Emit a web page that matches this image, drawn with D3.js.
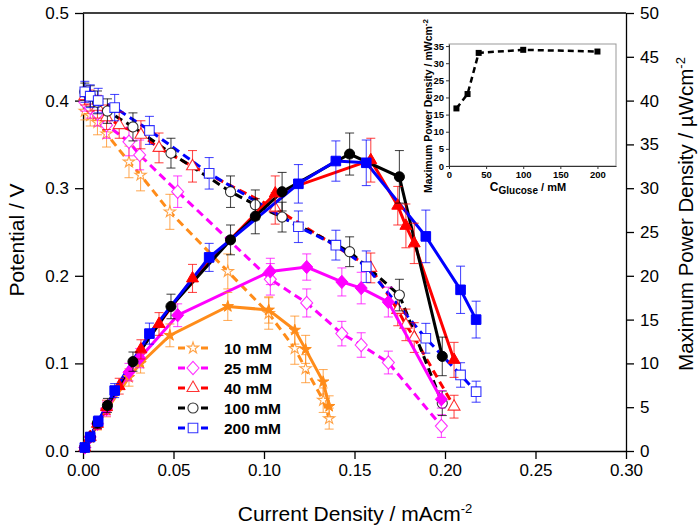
<!DOCTYPE html>
<html><head><meta charset="utf-8">
<script src="https://cdn.jsdelivr.net/npm/d3@7"></script>
<style>
body{margin:0;background:#fff}
svg{display:block}
text{font-family:"Liberation Sans",Arial,sans-serif}
</style>
</head><body>
<svg id="c" width="700" height="530"></svg>
<script>
// ---------------- DATA ----------------
const seriesNames = ["10 mM", "25 mM", "40 mM", "100 mM", "200 mM"];

const current10 = [0.001, 0.004, 0.008, 0.013, 0.0254, 0.0318, 0.048, 0.080, 0.1026, 0.117, 0.123, 0.1327, 0.136];
const potential10 = [0.388, 0.383, 0.375, 0.362, 0.330, 0.315, 0.273, 0.205, 0.157, 0.117, 0.094, 0.058, 0.037];
const potentialErr10 = [0.010, 0.012, 0.014, 0.015, 0.018, 0.018, 0.020, 0.020, 0.018, 0.018, 0.016, 0.014, 0.012];
const power10 = [0.4, 1.5, 3.0, 4.7, 8.4, 10.0, 13.2, 16.5, 16.1, 13.8, 11.6, 7.9, 5.1];
const powerErr10 = [0.2, 0.4, 0.6, 0.8, 1.0, 1.1, 1.3, 1.6, 1.5, 1.6, 1.6, 1.4, 1.2];

const current25 = [0.001, 0.004, 0.008, 0.013, 0.0254, 0.0313, 0.0523, 0.1035, 0.1236, 0.143, 0.1537, 0.1687, 0.198];
const potential25 = [0.398, 0.392, 0.385, 0.372, 0.353, 0.338, 0.296, 0.196, 0.169, 0.134, 0.121, 0.101, 0.0285];
const potentialErr25 = [0.010, 0.012, 0.014, 0.015, 0.016, 0.017, 0.018, 0.018, 0.016, 0.014, 0.014, 0.013, 0.013];
const power25 = [0.4, 1.6, 3.1, 4.8, 9.0, 10.6, 15.5, 20.5, 21.0, 19.3, 18.6, 17.0, 5.9];
const powerErr25 = [0.2, 0.4, 0.6, 0.8, 1.0, 1.1, 1.3, 1.5, 1.5, 1.6, 1.8, 1.7, 1.0];

const current40 = [0.001, 0.004, 0.008, 0.013, 0.020, 0.032, 0.042, 0.0605, 0.1062, 0.159, 0.1739, 0.1784, 0.183, 0.205];
const potential40 = [0.405, 0.400, 0.393, 0.381, 0.372, 0.361, 0.346, 0.325, 0.277, 0.209, 0.161, 0.144, 0.1295, 0.0506];
const potentialErr40 = [0.010, 0.012, 0.013, 0.014, 0.015, 0.016, 0.017, 0.018, 0.018, 0.017, 0.018, 0.018, 0.017, 0.013];
const power40 = [0.4, 1.6, 3.1, 5.0, 7.4, 11.6, 14.5, 19.7, 29.4, 33.2, 28.0, 25.7, 23.7, 10.4];
const powerErr40 = [0.2, 0.4, 0.6, 0.8, 0.9, 1.1, 1.3, 1.6, 2.0, 2.5, 2.2, 2.5, 2.3, 2.0];

const current100 = [0.001, 0.004, 0.008, 0.0135, 0.0276, 0.0486, 0.0815, 0.0952, 0.110, 0.1473, 0.1748, 0.1985];
const potential100 = [0.410, 0.405, 0.398, 0.388, 0.370, 0.340, 0.296, 0.281, 0.267, 0.2275, 0.178, 0.0545];
const potentialErr100 = [0.010, 0.012, 0.013, 0.014, 0.016, 0.017, 0.018, 0.017, 0.017, 0.017, 0.018, 0.014];
const power100 = [0.4, 1.6, 3.2, 5.2, 10.2, 16.5, 24.1, 26.8, 29.6, 33.9, 31.3, 10.8];
const powerErr100 = [0.2, 0.4, 0.6, 0.8, 1.1, 1.4, 1.7, 2.0, 2.2, 2.4, 3.0, 2.2];

const current200 = [0.001, 0.004, 0.0084, 0.0175, 0.0367, 0.0697, 0.119, 0.1397, 0.1565, 0.1894, 0.2086, 0.2172];
const potential200 = [0.410, 0.405, 0.400, 0.392, 0.366, 0.317, 0.256, 0.235, 0.2104, 0.1287, 0.0868, 0.0677];
const potentialErr200 = [0.012, 0.013, 0.014, 0.015, 0.016, 0.018, 0.018, 0.017, 0.018, 0.017, 0.014, 0.012];
const power200 = [0.4, 1.6, 3.4, 6.9, 13.4, 22.1, 30.5, 33.1, 32.9, 24.5, 18.4, 15.0];
const powerErr200 = [0.2, 0.4, 0.6, 0.8, 1.2, 1.6, 2.2, 2.3, 2.6, 3.0, 2.7, 2.1];

const xTicks = [0, 0.05, 0.10, 0.15, 0.20, 0.25, 0.30];
const yTicksPotential = [0, 0.1, 0.2, 0.3, 0.4, 0.5];
const yTicksPower = [0, 5, 10, 15, 20, 25, 30, 35, 40, 45, 50];

// inset: maximum power density vs glucose concentration
const insetConcentration = [10, 25, 40, 100, 200];
const insetMaxPower = [16.8, 21.0, 33.0, 33.9, 33.4];
const insetXTicks = [0, 50, 100, 150, 200];
const insetYTicks = [0, 5, 10, 15, 20, 25, 30, 35];

// ---------------- STYLE ----------------
const symbolWideDiamond = {
  draw(ctx, size) {
    const r = Math.sqrt(size / 2);
    ctx.moveTo(0, -r * 1.05); ctx.lineTo(r * 0.95, 0); ctx.lineTo(0, r * 1.05); ctx.lineTo(-r * 0.95, 0); ctx.closePath();
  }
};
const colors = ["#FF8C1A", "#FF00FF", "#FF0000", "#000000", "#0000FF"];
const symbols = [d3.symbolStar, symbolWideDiamond, d3.symbolTriangle, d3.symbolCircle, d3.symbolSquare];
const symSizes = [40, 80, 62, 80, 92];

const series = [
  {x: current10, v: potential10, ve: potentialErr10, p: power10, pe: powerErr10},
  {x: current25, v: potential25, ve: potentialErr25, p: power25, pe: powerErr25},
  {x: current40, v: potential40, ve: potentialErr40, p: power40, pe: powerErr40},
  {x: current100, v: potential100, ve: potentialErr100, p: power100, pe: powerErr100},
  {x: current200, v: potential200, ve: potentialErr200, p: power200, pe: powerErr200}
].map((s, i) => ({...s, name: seriesNames[i], color: colors[i], sym: symbols[i], size: symSizes[i]}));

const svg = d3.select("#c");
const FONT = '"Liberation Sans",Arial,sans-serif';

const x = d3.scaleLinear([0, 0.3], [83, 626]);
const yV = d3.scaleLinear([0, 0.5], [451, 13]);
const yP = d3.scaleLinear([0, 50], [451, 13]);

// ---------------- AXES ----------------
function styleAxis(g) {
  g.selectAll("path.domain").attr("stroke", "#000").attr("stroke-width", 1.3);
  g.selectAll(".tick line").attr("stroke", "#000").attr("stroke-width", 1.3);
  g.selectAll(".tick text").attr("font-family", FONT).attr("font-size", 17).attr("fill", "#000");
}
svg.append("g").attr("transform", "translate(0,451)")
  .call(d3.axisBottom(x).tickValues(xTicks).tickFormat(d3.format(".2f")).tickSize(8).tickSizeOuter(0).tickPadding(5))
  .call(styleAxis);
svg.append("g").attr("transform", "translate(83,0)")
  .call(d3.axisLeft(yV).tickValues(yTicksPotential).tickFormat(d3.format(".1f")).tickSize(8).tickSizeOuter(0).tickPadding(6))
  .call(styleAxis);
svg.append("g").attr("transform", "translate(626,0)")
  .call(d3.axisRight(yP).tickValues(yTicksPower).tickFormat(d3.format("d")).tickSize(8).tickSizeOuter(0).tickPadding(6))
  .call(styleAxis);
svg.append("line").attr("x1", 83).attr("x2", 626).attr("y1", 13).attr("y2", 13)
  .attr("stroke", "#000").attr("stroke-width", 1.3);

// titles
svg.append("text").attr("transform", "translate(24,240) rotate(-90)")
  .attr("text-anchor", "middle").attr("font-size", 21).text("Potential / V");
const xt = svg.append("text").attr("x", 355).attr("y", 521).attr("text-anchor", "middle").attr("font-size", 21);
xt.append("tspan").text("Current Density / mAcm");
xt.append("tspan").attr("dy", -8).attr("font-size", 13).text("-2");
const yt = svg.append("text").attr("transform", "translate(693,214) rotate(-90)")
  .attr("text-anchor", "middle").attr("font-size", 20.5);
yt.append("tspan").text("Maximum Power Density / \u00B5Wcm");
yt.append("tspan").attr("dy", -8).attr("font-size", 13).text("-2");

// ---------------- DATA MARKS ----------------
const plot = svg.append("g");

function drawErr(g, s, yScale, key, ekey) {
  s.x.forEach((xv, i) => {
    const cx = x(xv), y1 = yScale(s[key][i] - s[ekey][i]), y2 = yScale(s[key][i] + s[ekey][i]);
    const eg = g.append("g").attr("stroke", s.color).attr("stroke-opacity", 0.7).attr("stroke-width", 1.1);
    eg.append("line").attr("x1", cx).attr("x2", cx).attr("y1", y1).attr("y2", y2);
    eg.append("line").attr("x1", cx - 4.5).attr("x2", cx + 4.5).attr("y1", y1).attr("y2", y1);
    eg.append("line").attr("x1", cx - 4.5).attr("x2", cx + 4.5).attr("y1", y2).attr("y2", y2);
  });
}

// polarization curves (dashed, open markers)
series.forEach(s => {
  const pts = s.x.map((xv, i) => [x(xv), yV(s.v[i])]);
  plot.append("path").attr("d", d3.line()(pts)).attr("fill", "none")
    .attr("stroke", s.color).attr("stroke-width", 3).attr("stroke-dasharray", "8,5");
});
series.forEach(s => {
  const g = plot.append("g");
  drawErr(g, s, yV, "v", "ve");
  s.x.forEach((xv, i) => {
    g.append("path").attr("d", d3.symbol(s.sym, s.size)())
      .attr("transform", `translate(${x(xv)},${yV(s.v[i])})`)
      .attr("fill", "#fff").attr("stroke", s.color).attr("stroke-opacity", 0.8).attr("stroke-width", 1.1);
  });
});

// power curves (solid, filled markers)
series.forEach(s => {
  const pts = s.x.map((xv, i) => [x(xv), yP(s.p[i])]);
  plot.append("path").attr("d", d3.line()(pts)).attr("fill", "none")
    .attr("stroke", s.color).attr("stroke-width", 3);
});
series.forEach(s => {
  const g = plot.append("g");
  drawErr(g, s, yP, "p", "pe");
  s.x.forEach((xv, i) => {
    g.append("path").attr("d", d3.symbol(s.sym, s.size)())
      .attr("transform", `translate(${x(xv)},${yP(s.p[i])})`)
      .attr("fill", s.color).attr("stroke", s.color).attr("stroke-width", 1);
  });
});

// ---------------- LEGEND ----------------
const lg = svg.append("g");
series.forEach((s, i) => {
  const ly = 348 + i * 20;
  lg.append("line").attr("x1", 178).attr("x2", 208).attr("y1", ly).attr("y2", ly)
    .attr("stroke", s.color).attr("stroke-width", 3).attr("stroke-dasharray", "7,16");
  lg.append("path").attr("d", d3.symbol(s.sym, s.size)())
    .attr("transform", `translate(193,${ly})`)
    .attr("fill", "#fff").attr("stroke", s.color).attr("stroke-opacity", 0.8).attr("stroke-width", 1.1);
  lg.append("text").attr("x", 224).attr("y", ly + 5.5).attr("font-size", 15.5)
    .attr("font-weight", "bold").text(s.name);
});

// ---------------- INSET ----------------
const ix = d3.scaleLinear([0, 225], [449, 616]);
const iy = d3.scaleLinear([0, 35.6], [166, 44]);
const inset = svg.append("g");
inset.append("rect").attr("x", 449).attr("y", 44).attr("width", 167).attr("height", 122)
  .attr("fill", "#fff").attr("stroke", "#999").attr("stroke-width", 1);
function styleInset(g) {
  g.selectAll("path.domain").attr("stroke", "#333").attr("stroke-width", 1);
  g.selectAll(".tick line").attr("stroke", "#333");
  g.selectAll(".tick text").attr("font-family", FONT).attr("font-size", 9.5)
    .attr("font-weight", "bold").attr("fill", "#000");
}
inset.append("g").attr("transform", "translate(0,166)")
  .call(d3.axisBottom(ix).tickValues(insetXTicks).tickSize(3).tickSizeOuter(0).tickPadding(2))
  .call(styleInset);
inset.append("g").attr("transform", "translate(449,0)")
  .call(d3.axisLeft(iy).tickValues(insetYTicks).tickSize(3).tickSizeOuter(0).tickPadding(2))
  .call(styleInset);
const ipts = insetConcentration.map((c, i) => [ix(c), iy(insetMaxPower[i])]);
inset.append("path").attr("d", d3.line()(ipts)).attr("fill", "none")
  .attr("stroke", "#000").attr("stroke-width", 2.5).attr("stroke-dasharray", "6,4");
inset.selectAll("rect.m").data(ipts).join("rect").attr("class", "m")
  .attr("x", d => d[0] - 3).attr("y", d => d[1] - 3).attr("width", 6).attr("height", 6).attr("fill", "#000");
const ilab = inset.append("text").attr("transform", "translate(432,106) rotate(-90)")
  .attr("text-anchor", "middle").attr("font-size", 10.5).attr("font-weight", "bold");
ilab.append("tspan").text("Maximum Power Density / mWcm");
ilab.append("tspan").attr("dy", -4).attr("font-size", 8).text("-2");
const ixl = inset.append("text").attr("x", 528).attr("y", 191).attr("text-anchor", "middle")
  .attr("font-weight", "bold").attr("font-size", 12);
ixl.append("tspan").text("C");
ixl.append("tspan").attr("dy", 3).attr("font-size", 10).text("Glucose");
ixl.append("tspan").attr("dy", -3).attr("font-size", 11).text(" / mM");
</script>
</body></html>
